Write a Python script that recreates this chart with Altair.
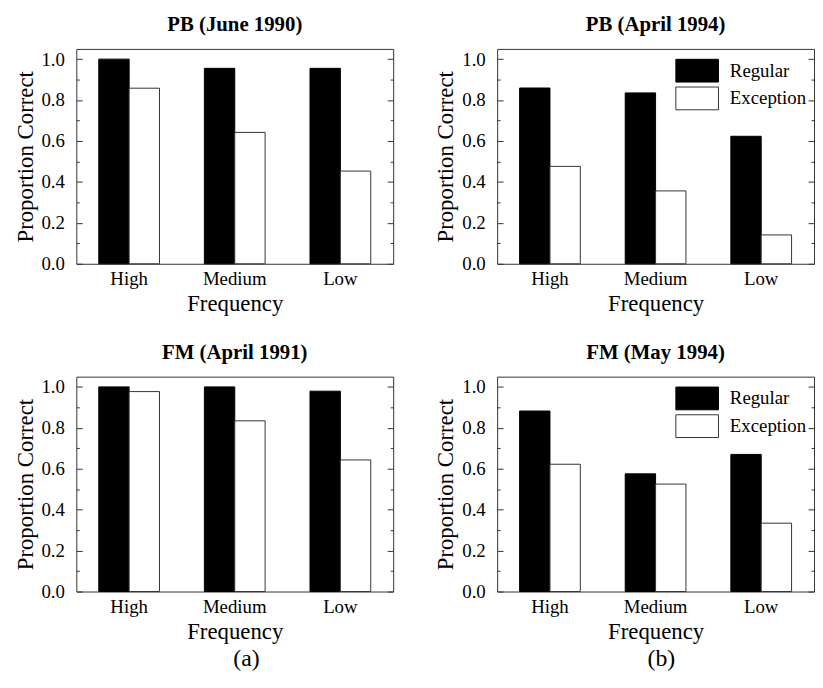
import altair as alt
import pandas as pd

FONT = "Liberation Serif"

frequencies = ["High", "Medium", "Low"]
types = ["Regular", "Exception"]

pb_1990_regular = [1.0, 0.955, 0.955]
pb_1990_exception = [0.858, 0.642, 0.453]
pb_1994_regular = [0.859, 0.835, 0.623]
pb_1994_exception = [0.476, 0.356, 0.141]
fm_1991_regular = [1.0, 1.0, 0.979]
fm_1991_exception = [0.977, 0.834, 0.643]
fm_1994_regular = [0.882, 0.575, 0.670]
fm_1994_exception = [0.622, 0.525, 0.334]

y_major = [0.0, 0.2, 0.4, 0.6, 0.8, 1.0]
y_minor = [0.1, 0.3, 0.5, 0.7, 0.9]

W, H = 320, 217


def make_df(reg, exc):
    rows = []
    for f, r, e in zip(frequencies, reg, exc):
        rows.append({"Frequency": f, "Type": "Regular", "Value": r})
        rows.append({"Frequency": f, "Type": "Exception", "Value": e})
    return pd.DataFrame(rows)


def yaxis(orient, values, size, labels):
    kw = dict(orient=orient, values=values, tickSize=size, offset=-size,
              domain=False, grid=False, labels=labels, tickColor="#333",
              tickWidth=1)
    if labels:
        kw.update(title="Proportion Correct", format=".1f", labelFontSize=19,
                  titleFontSize=23, labelPadding=12, titlePadding=4,
                  titleFontWeight="normal")
    else:
        kw.update(title=None)
    return alt.Axis(**kw)


XAXIS = alt.Axis(title="Frequency", labelAngle=0, ticks=False, domain=False,
                 labelPadding=6, labelFontSize=19, titleFontSize=23,
                 titlePadding=4, titleFontWeight="normal")
XSCALE = alt.Scale(paddingInner=0.425, paddingOuter=0.2125)
YSCALE = alt.Scale(domain=[0, 1.05], nice=False, zero=True)


def panel(title, reg, exc, show_legend):
    df = make_df(reg, exc)
    if show_legend:
        leg = alt.Legend(title=None, orient="none", legendX=190, legendY=10,
                         symbolType="M-1.87,-1H1.87V1H-1.87Z", symbolSize=529,
                         symbolStrokeWidth=1, labelFontSize=19, labelFont=FONT,
                         labelColor="black", rowPadding=0, labelOffset=21,
                         padding=0)
    else:
        leg = None
    bars = alt.Chart(df).mark_bar(strokeWidth=1).encode(
        x=alt.X("Frequency:N", sort=frequencies, scale=XSCALE, axis=XAXIS),
        xOffset=alt.XOffset("Type:N", sort=types),
        y=alt.Y("Value:Q", scale=YSCALE, axis=yaxis("left", y_major, 6, True)),
        fill=alt.Fill("Type:N", scale=alt.Scale(domain=types, range=["black", "white"]), legend=leg),
        stroke=alt.Stroke("Type:N", scale=alt.Scale(domain=types, range=["black", "#333"]), legend=leg),
    )

    def ghost(orient, values, size):
        return alt.Chart(df).mark_bar(opacity=0).encode(
            x=alt.X("Frequency:N", sort=frequencies, scale=XSCALE, axis=XAXIS),
            xOffset=alt.XOffset("Type:N", sort=types),
            y=alt.Y("Value:Q", scale=YSCALE, axis=yaxis(orient, values, size, False)),
        )

    return alt.layer(
        bars,
        ghost("left", y_minor, 3),
        ghost("right", y_major, 6),
        ghost("right", y_minor, 3),
    ).resolve_axis(y="independent").properties(
        width=W, height=H,
        title=alt.Title(title, fontSize=21, fontWeight="bold", font=FONT, offset=14, anchor="middle"),
    )


p1 = panel("PB (June 1990)", pb_1990_regular, pb_1990_exception, False)
p2 = panel("PB (April 1994)", pb_1994_regular, pb_1994_exception, True)
p3 = panel("FM (April 1991)", fm_1991_regular, fm_1991_exception, False)
p4 = panel("FM (May 1994)", fm_1994_regular, fm_1994_exception, True)


def column(a, b, label, dx):
    return alt.vconcat(
        a, b, spacing=25,
        title=alt.Title(label, orient="bottom", fontSize=24, fontWeight="normal",
                        font=FONT, anchor="middle", offset=4, dx=dx),
    ).resolve_legend(fill="independent", stroke="independent").resolve_scale(fill="independent", stroke="independent")


chart = alt.hconcat(
    column(p1, p3, "(a)", 43), column(p2, p4, "(b)", 37), spacing=40
).resolve_legend(fill="independent", stroke="independent").resolve_scale(
    fill="independent", stroke="independent"
).properties(
    padding={"left": 5, "top": 2, "right": 0, "bottom": 0}
).configure(font=FONT).configure_view(stroke="#333", strokeWidth=1).configure_axis(
    labelFont=FONT, titleFont=FONT, labelColor="black", titleColor="black"
)

chart.save("out.html", embed_options={"renderer": "svg", "actions": False})
